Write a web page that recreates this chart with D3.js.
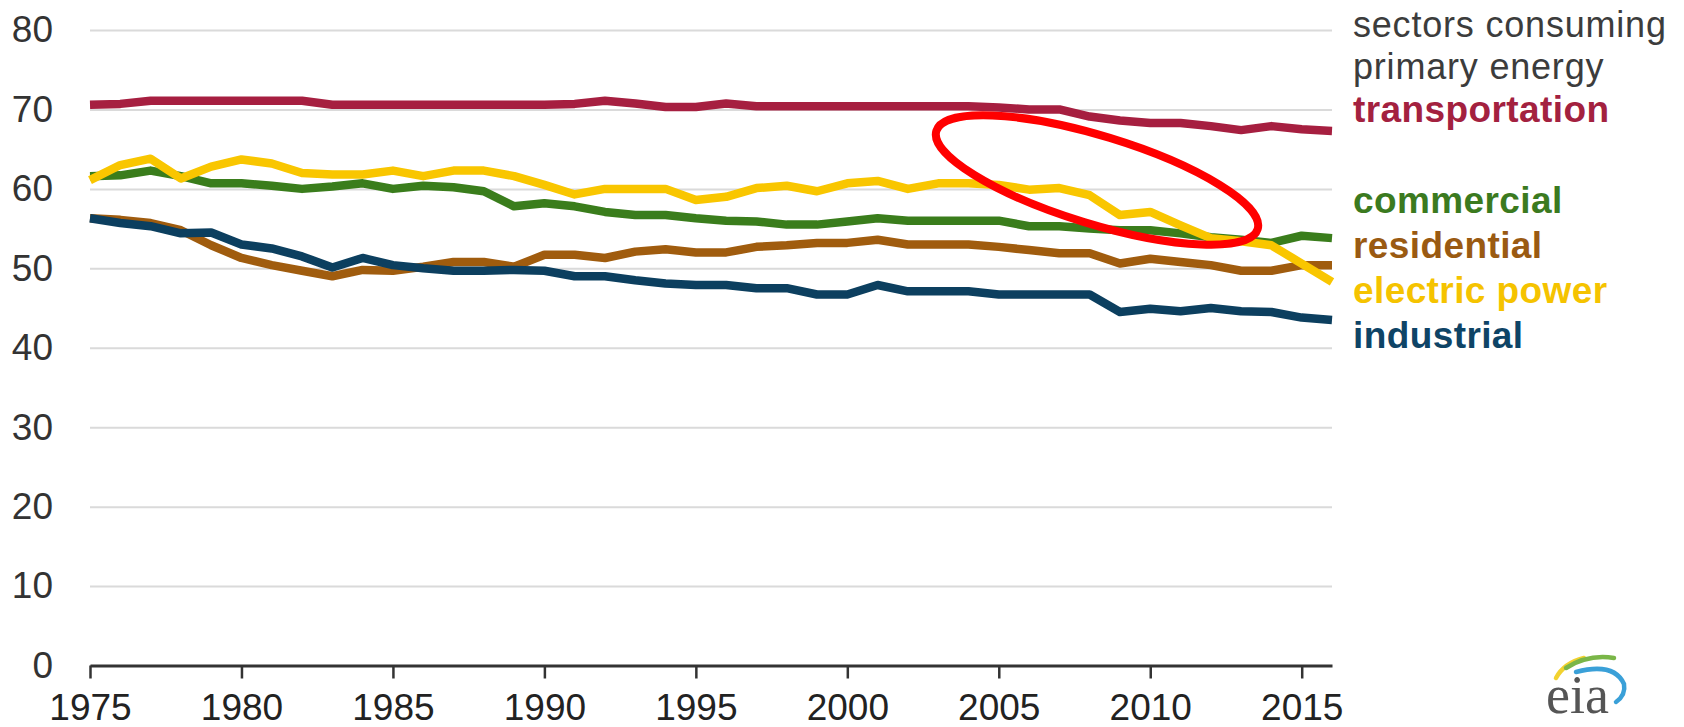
<!DOCTYPE html>
<html>
<head>
<meta charset="utf-8">
<script src="https://cdn.jsdelivr.net/npm/d3@7"></script>
<style>
  html, body { margin: 0; padding: 0; background: #ffffff; }
  svg { display: block; }
  text { font-family: "Liberation Sans", Arial, sans-serif; }
</style>
</head>
<body>
<svg id="chart" width="1684" height="727"></svg>
<script>
// ---------------- data ----------------
const years = [1975,1976,1977,1978,1979,1980,1981,1982,1983,1984,1985,1986,1987,1988,
  1989,1990,1991,1992,1993,1994,1995,1996,1997,1998,1999,2000,2001,2002,
  2003,2004,2005,2006,2007,2008,2009,2010,2011,2012,2013,2014,2015,2016];

const transportation = [70.6,70.7,71.1,71.1,71.1,71.1,71.1,71.1,70.6,70.6,70.6,70.6,70.6,70.6,
  70.6,70.6,70.7,71.1,70.75,70.3,70.3,70.75,70.4,70.4,70.4,70.4,70.4,70.4,
  70.4,70.4,70.25,70.0,70.0,69.1,68.6,68.3,68.3,67.9,67.4,67.9,67.5,67.3];

const commercial = [61.6,61.7,62.3,61.6,60.7,60.7,60.4,60.0,60.3,60.7,60.0,60.4,60.2,59.7,
  57.8,58.2,57.8,57.1,56.7,56.7,56.3,56.0,55.9,55.5,55.5,55.9,56.3,56.0,
  56.0,56.0,56.0,55.3,55.3,55.0,54.8,54.8,54.4,53.9,53.6,53.2,54.1,53.8];

const residential = [56.3,56.1,55.7,54.8,52.9,51.3,50.4,49.7,49.0,49.8,49.7,50.2,50.8,50.8,
  50.2,51.7,51.7,51.3,52.1,52.4,52.0,52.0,52.7,52.9,53.2,53.2,53.6,53.0,
  53.0,53.0,52.7,52.3,51.9,51.9,50.6,51.2,50.8,50.4,49.7,49.7,50.4,50.4];

const industrial = [56.3,55.7,55.3,54.4,54.5,53.0,52.5,51.5,50.1,51.3,50.4,50.0,49.7,49.7,
  49.8,49.7,49.0,49.0,48.5,48.1,47.9,47.9,47.5,47.5,46.7,46.7,47.9,47.1,
  47.1,47.1,46.7,46.7,46.7,46.7,44.5,44.9,44.6,45.0,44.6,44.5,43.8,43.5];

const electricPower = [61.1,63.0,63.8,61.3,62.8,63.7,63.2,62.0,61.8,61.8,62.3,61.6,62.3,62.3,
  61.6,60.5,59.3,60.0,60.0,60.0,58.6,59.0,60.1,60.4,59.7,60.7,61.0,60.0,
  60.7,60.7,60.5,59.9,60.1,59.2,56.7,57.1,55.4,53.8,53.4,52.9,50.6,48.3];

const yTicks = [0,10,20,30,40,50,60,70,80];
const xTicks = [1975,1980,1985,1990,1995,2000,2005,2010,2015];

const legendHeader = ["sectors consuming", "primary energy"];
const seriesNames = ["transportation","commercial","residential","electric power","industrial"];

// ---------------- layout / style ----------------
const plotLeft = 90, plotRight = 1332, plotTop = 30, plotBottom = 665.5;

const colors = {
  "transportation": "#a61f40",
  "commercial": "#3a7d1c",
  "residential": "#a05c0e",
  "electric power": "#f9c600",
  "industrial": "#0c3f5f"
};
const textColors = {
  "transportation": "#a3213f",
  "commercial": "#3b7a1f",
  "residential": "#9a5a12",
  "electric power": "#f5c300",
  "industrial": "#0e4466"
};

const svg = d3.select("#chart");

const x = d3.scaleLinear().domain([1975, 2016]).range([plotLeft, plotRight]);
const y = d3.scaleLinear().domain([0, 80]).range([plotBottom, plotTop]);

// gridlines + y labels
const yAxis = svg.append("g")
  .attr("transform", `translate(${plotLeft},0)`)
  .call(d3.axisLeft(y).tickValues(yTicks).tickSize(-(plotRight - plotLeft)).tickPadding(37).tickFormat(d3.format("d")));
yAxis.select(".domain").remove();
yAxis.selectAll(".tick line").attr("stroke", "#dadada").attr("stroke-width", 2);
yAxis.selectAll(".tick text")
  .attr("fill", "#333").attr("font-size", 37)
  .style("font-family", "'Liberation Sans', Arial, sans-serif");

// lines
const seriesData = [
  {name: "transportation", values: transportation},
  {name: "commercial", values: commercial},
  {name: "residential", values: residential},
  {name: "industrial", values: industrial},
  {name: "electric power", values: electricPower}
];
const line = d3.line()
  .x((d, i) => x(years[i]))
  .y(d => y(d));

svg.append("g").selectAll("path")
  .data(seriesData)
  .join("path")
  .attr("d", d => line(d.values))
  .attr("fill", "none")
  .attr("stroke", d => colors[d.name])
  .attr("stroke-width", 8.5)
  .attr("stroke-linejoin", "round")
  .attr("stroke-linecap", "butt");

// x axis
const xAxis = svg.append("g")
  .attr("transform", `translate(0,${plotBottom})`)
  .call(d3.axisBottom(x).tickValues(xTicks).tickSize(13).tickSizeOuter(0).tickPadding(15).tickFormat(d3.format("d")));
xAxis.select(".domain").attr("stroke", "#333").attr("stroke-width", 3);
xAxis.selectAll(".tick line").attr("stroke", "#333").attr("stroke-width", 2.5);
xAxis.selectAll(".tick text")
  .attr("fill", "#222").attr("font-size", 37)
  .style("font-family", "'Liberation Sans', Arial, sans-serif");

// legend
const legX = 1353;
svg.append("g").selectAll("text")
  .data(legendHeader)
  .join("text")
  .attr("x", legX)
  .attr("y", (d, i) => 37 + i * 42)
  .attr("fill", "#3c3c3c")
  .attr("font-size", 36)
  .attr("letter-spacing", 0.8)
  .text(d => d);

const legendY = {"transportation": 122, "commercial": 213, "residential": 258, "electric power": 303, "industrial": 348};
svg.append("g").selectAll("text")
  .data(seriesNames)
  .join("text")
  .attr("x", legX)
  .attr("y", d => legendY[d])
  .attr("fill", d => textColors[d])
  .attr("font-size", 37)
  .attr("font-weight", "bold")
  .attr("letter-spacing", 0.4)
  .text(d => d);

// red hand-drawn ellipse annotation
svg.append("ellipse")
  .attr("cx", 0).attr("cy", 0)
  .attr("rx", 168).attr("ry", 44)
  .attr("transform", "translate(1097,180) rotate(17)")
  .attr("fill", "none")
  .attr("stroke", "#ff0000")
  .attr("stroke-width", 8);

// eia logo
const logo = svg.append("g");
logo.append("path")
  .attr("d", "M1556,678 Q1564,663 1584,658")
  .attr("fill", "none").attr("stroke", "#f2d230").attr("stroke-width", 4.5).attr("stroke-linecap", "round");
logo.append("path")
  .attr("d", "M1566,668 Q1588,654 1614,658")
  .attr("fill", "none").attr("stroke", "#7ab648").attr("stroke-width", 4.5).attr("stroke-linecap", "round");
logo.append("path")
  .attr("d", "M1576,672 Q1614,662 1624,684 Q1626,695 1616,702")
  .attr("fill", "none").attr("stroke", "#3aa0d8").attr("stroke-width", 4.5).attr("stroke-linecap", "round");
logo.append("text")
  .attr("x", 1546).attr("y", 713)
  .attr("fill", "#555")
  .attr("font-size", 54)
  .style("font-family", "'Liberation Serif', 'DejaVu Serif', serif")
  .text("eia");
</script>
</body>
</html>
